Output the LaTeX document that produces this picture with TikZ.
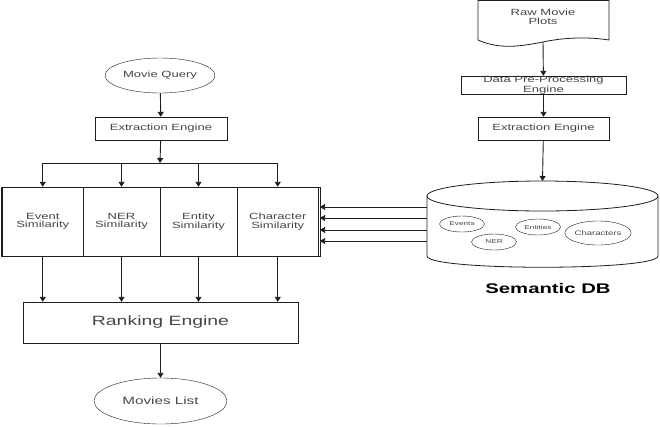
\documentclass[tikz,border=0pt]{standalone}
\usepackage{fontspec}
\setmainfont{Liberation Sans}[FakeStretch=1.45]
\usetikzlibrary{arrows.meta,positioning,shapes.geometric}
\definecolor{ink}{RGB}{30,30,30}
\definecolor{txt}{RGB}{70,70,70}

\begin{document}
\begin{tikzpicture}[x=1pt,y=-1pt,
    every node/.style={text=txt,align=center,font=\fontsize{9}{8.5}\selectfont},
    proc/.style={draw=ink,rectangle,inner sep=0pt},
    term/.style={draw=ink,ellipse,inner sep=0pt},
    cell/.style={draw=ink,rectangle,inner sep=0pt,minimum height=69},
    tag/.style={draw=ink,ellipse,inner sep=0pt,minimum width=45,minimum height=16,
      font=\fontsize{5.7}{6}\selectfont},
    arr/.style={-{Triangle[length=5pt,width=6pt]},ink,line width=0.9pt},
    wire/.style={ink,line width=0.9pt}]
  \useasboundingbox (0,0) rectangle (660,426);

  % query side
  \node[term,minimum width=110,minimum height=35] (query) at (160,75.5) {Movie Query};
  \node[proc,minimum width=132,minimum height=23] (ext1) at (161,128.5) {Extraction Engine};
  \coordinate (split) at (160,163);

  % similarity block
  \draw[ink,line width=0.9pt] (1,187) rectangle (320,256);
  \node[cell,minimum width=80.5] (c1) at (42.75,221.5) {Event\\Similarity};
  \node[cell,minimum width=77] (c2) at (121.5,221.5) {NER\\Similarity};
  \node[cell,minimum width=77] (c3) at (198.5,221.5) {Entity\\Similarity};
  \node[cell,minimum width=81.5] (c4) at (277.75,221.5) {Character\\Similarity};

  \node[proc,minimum width=275,minimum height=41,
    font=\fontsize{13.4}{14}\selectfont] (rank) at (160.5,322.5) {Ranking Engine};
  \node[term,minimum width=133,minimum height=46,
    font=\fontsize{10.5}{11}\selectfont] (list) at (160.5,401) {Movies List};

  % corpus side
  \draw[ink,thick] (478,0.5) -- (478,40) .. controls (500,50) and (522,46) .. (543,42)
    .. controls (566,37) and (590,37) .. (609,40) -- (609,0.5) -- cycle;
  \node (raw) at (543,17) {Raw Movie\\Plots};
  \coordinate (rawend) at (543,42);
  \node[proc,minimum width=165,minimum height=18,
    font=\fontsize{9}{8}\selectfont] (prep) at (543.5,85) {Data Pre-Processing\\Engine};
  \node[proc,minimum width=131,minimum height=23] (ext2) at (543.5,128.5) {Extraction Engine};

  % semantic db cylinder
  \draw[ink,thick] (427,196) -- (427,256) .. controls (427,271) and (658,271) .. (658,256)
    -- (658,196);
  \draw[ink,thick] (542.5,196) ellipse [x radius=115.5,y radius=15];
  \coordinate (dbtop) at (542.5,181);
  \node[tag] (events) at (462,224) {Events};
  \node[tag] (ner) at (494,242) {NER};
  \node[tag] (entities) at (538,227) {Entities};
  \node[tag,minimum width=55,minimum height=24,
    font=\fontsize{6.6}{7}\selectfont] (chars) at (598,233) {Characters};
  \node[text=black,font=\bfseries\fontsize{14}{15}\selectfont] (dbname) at (548,288) {Semantic DB};
  \foreach \i/\y in {1/207,2/218,3/230,4/241}
    \coordinate (db\i) at (427,\y);

  % connectors
  \draw[arr] (query) -- (ext1);
  \draw[arr] (ext1) -- (split);
  \draw[wire] (split -| c1) -- (split -| c4);
  \foreach \i in {1,...,4} {
    \draw[arr] (split -| c\i) -- (c\i.north);
    \draw[arr] (c\i.south) -- (c\i |- rank.north);
  }
  \draw[arr] (rank) -- (list);
  \draw[arr] (rawend) -- (prep);
  \draw[arr] (prep) -- (ext2);
  \draw[arr] (ext2) -- (dbtop);
  \foreach \i in {1,...,4}
    \draw[arr,line width=0.6pt] (db\i) -- (320,0 |- db\i);
\end{tikzpicture}
\end{document}
